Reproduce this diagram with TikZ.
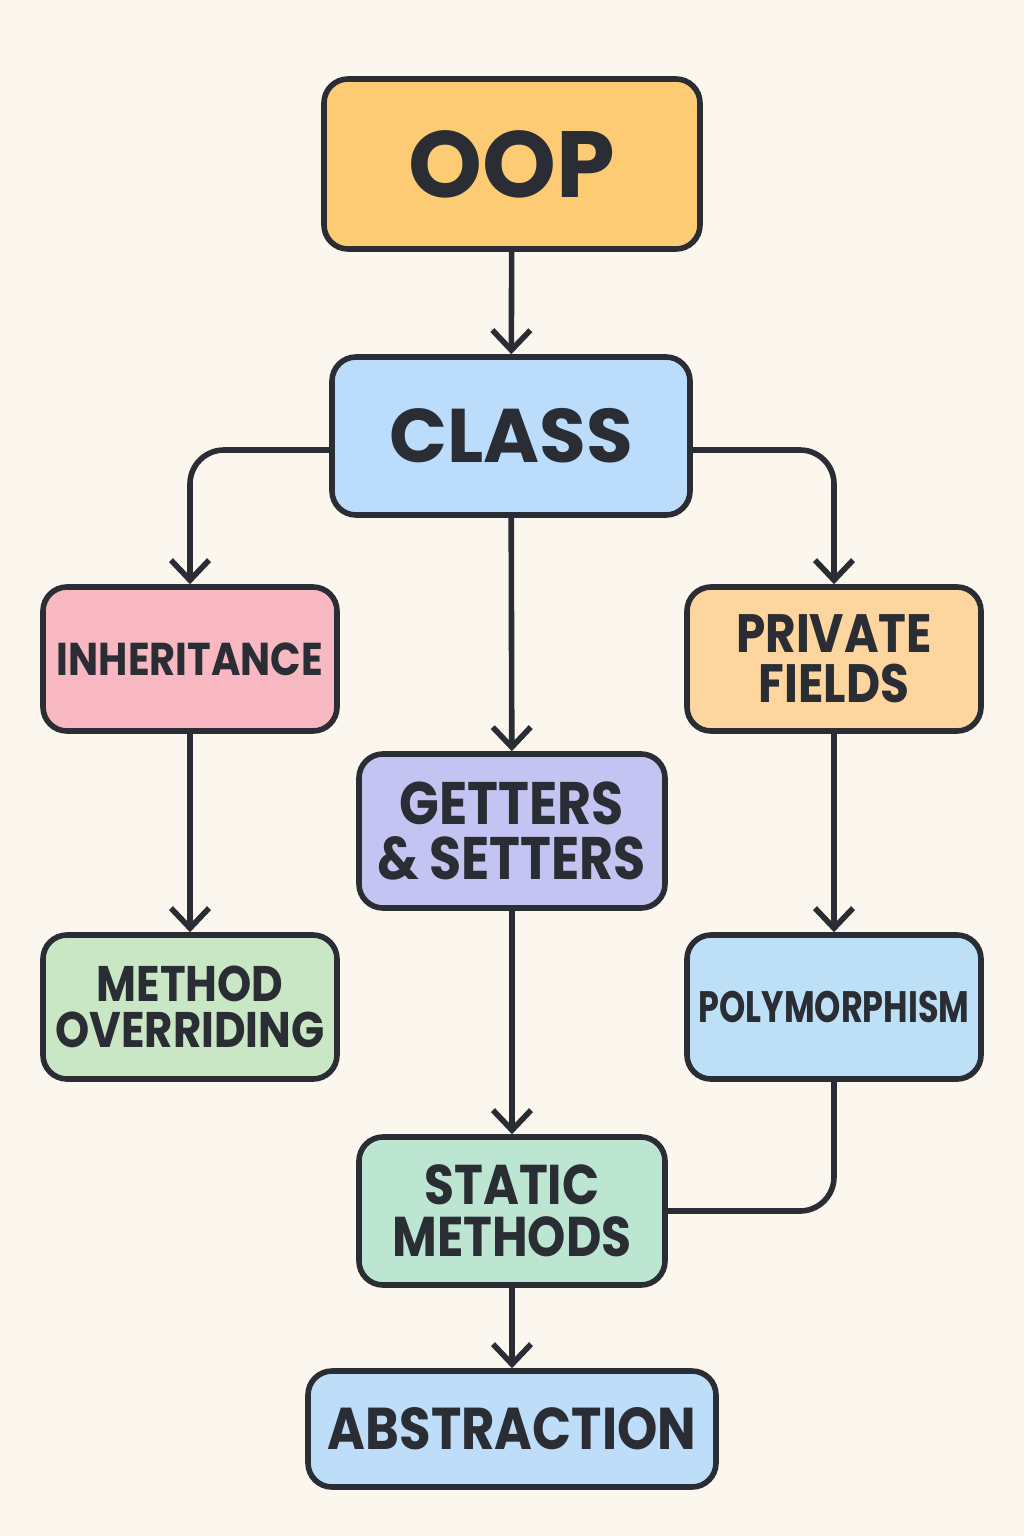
\documentclass[tikz,border=0pt]{standalone}
\usepackage{fontspec}
\setmainfont{Poppins}
\newfontfamily\etroit[FakeStretch=0.87]{Poppins}
\newfontfamily\tresetroit[FakeStretch=0.76]{Poppins}
\usetikzlibrary{arrows.meta}
\definecolor{fond}{HTML}{FBF6EE}
\definecolor{trait}{HTML}{2A2D33}
\definecolor{oopc}{HTML}{FDCB74}
\definecolor{classc}{HTML}{BBDCFB}
\definecolor{heritc}{HTML}{F7B8C1}
\definecolor{privc}{HTML}{FDD59E}
\definecolor{getc}{HTML}{C3C4F1}
\definecolor{methc}{HTML}{C9E6C5}
\definecolor{polyc}{HTML}{BEE0F7}
\definecolor{statc}{HTML}{BCE5D2}
\definecolor{abstc}{HTML}{BEDDF8}
\newcommand{\taille}[1]{\bfseries\fontsize{#1}{0.92\dimexpr #1pt\relax}\selectfont}
\begin{document}
\begin{tikzpicture}[x=0.5pt,y=-0.5pt]
%stylesdesnoeuds
\tikzstyle{boite}=[rectangle,draw=trait,line width=2.8pt,rounded corners=12pt,
align=center,text=trait,inner sep=0pt]
\tikzstyle{petite}=[boite,minimum width=147pt,minimum height=72pt]
%styledesfleches
\tikzstyle{suite}=[-{Straight Barb[length=10pt,width=19pt,line width=2.8pt]},
draw=trait,line width=2.8pt,rounded corners=17pt]
\tikzstyle{lien}=[draw=trait,line width=2.8pt,rounded corners=17pt]
%fond
\fill[fond] (0,0) rectangle (1024,1536);
\useasboundingbox (0,0) rectangle (1024,1536);
%placementdesnoeuds
\node[boite,fill=oopc,minimum width=188pt,minimum height=85pt,font=\taille{47}] (oop) at (512,164) {OOP};
\node[boite,fill=classc,minimum width=179pt,minimum height=79pt,font=\taille{38}] (class) at (511,436) {CLASS};
\node[petite,fill=heritc,font=\etroit\taille{23}] (herit) at (190,659) {INHERITANCE};
\node[petite,fill=privc,font=\etroit\taille{27}] (priv) at (834,659) {PRIVATE\\FIELDS};
\node[boite,fill=getc,minimum width=153pt,minimum height=77pt,font=\etroit\taille{30}] (getset) at (512,831) {GETTERS\\\&\,SETTERS};
\node[petite,fill=methc,font=\etroit\taille{25}] (meth) at (190,1007) {METHOD\\OVERRIDING};
\node[petite,fill=polyc,font=\tresetroit\taille{22}] (poly) at (834,1007) {POLYMORPHISM};
\node[boite,fill=statc,minimum width=153pt,minimum height=74pt,font=\etroit\taille{28}] (static) at (512,1211) {STATIC\\METHODS};
\node[boite,fill=abstc,minimum width=204pt,minimum height=58pt,font=\etroit\taille{29.5}] (abst) at (512,1429) {ABSTRACTION};
%placementdesfleches
\draw[suite] (oop) -- (class);
\draw[suite] ([yshift=-7pt]class.west) -| (herit.north);
\draw[suite] ([yshift=-7pt]class.east) -| (priv.north);
\draw[suite] (class) -- (getset);
\draw[suite] (herit) -- (meth);
\draw[suite] (priv) -- (poly);
\draw[suite] (getset) -- (static);
\draw[lien] (poly.south) |- (static.east);
\draw[suite] (static) -- (abst);
\end{tikzpicture}
\end{document}
